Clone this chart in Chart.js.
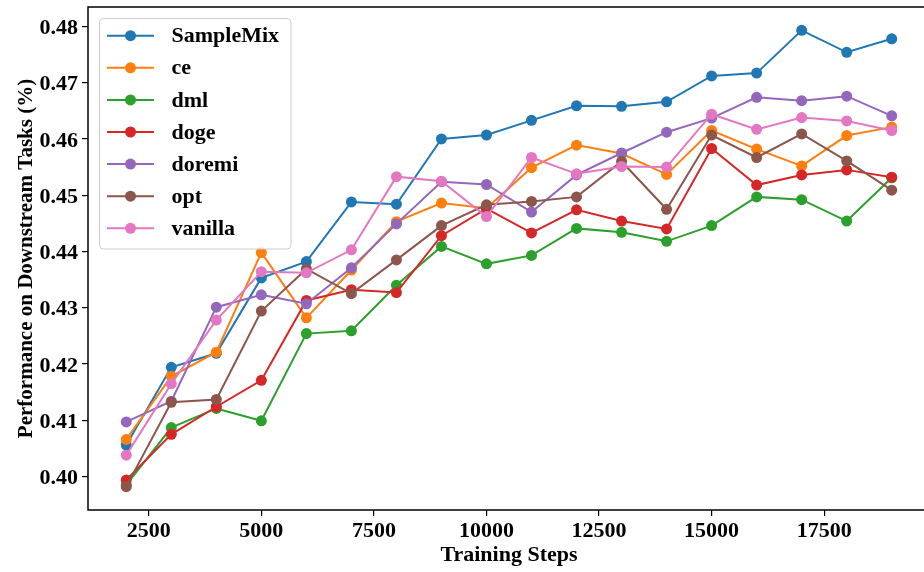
<!DOCTYPE html>
<html>
<head>
<meta charset="utf-8">
<script src="https://cdn.jsdelivr.net/npm/chart.js@4.4.1/dist/chart.umd.min.js"></script>
<style>
html,body{margin:0;padding:0;background:#fff;}
#wrap{width:924px;height:572px;overflow:hidden;position:relative;}
#c{display:block;}
</style>
</head>
<body>
<div id="wrap"><canvas id="c" width="940" height="572"></canvas></div>
<script>
const steps = [2000,3000,4000,5000,6000,7000,8000,9000,10000,11000,12000,13000,14000,15000,16000,17000,18000,19000];
const seriesNames = ['SampleMix','ce','dml','doge','doremi','opt','vanilla'];
const sampleMix = [0.4056,0.4194,0.4219,0.4353,0.4382,0.4488,0.4484,0.4600,0.4607,0.4633,0.4659,0.4658,0.4666,0.4712,0.4717,0.4793,0.4754,0.4778];
const ce        = [0.4066,0.4178,0.4221,0.4398,0.4282,0.4367,0.4453,0.4486,0.4477,0.4549,0.4589,0.4574,0.4537,0.4615,0.4582,0.4552,0.4606,0.4621];
const dml       = [0.3985,0.4087,0.4121,0.4099,0.4254,0.4259,0.4340,0.4409,0.4378,0.4393,0.4441,0.4434,0.4418,0.4446,0.4497,0.4492,0.4454,0.4531];
const doge      = [0.3994,0.4075,0.4124,0.4171,0.4313,0.4332,0.4327,0.4428,0.4476,0.4433,0.4474,0.4454,0.4440,0.4583,0.4518,0.4536,0.4545,0.4532];
const doremi    = [0.4097,0.4134,0.4301,0.4323,0.4307,0.4371,0.4449,0.4524,0.4519,0.4470,0.4536,0.4575,0.4612,0.4637,0.4674,0.4668,0.4676,0.4641];
const opt       = [0.3982,0.4132,0.4137,0.4294,0.4369,0.4325,0.4385,0.4446,0.4483,0.4489,0.4497,0.4560,0.4475,0.4607,0.4567,0.4609,0.4561,0.4509];
const vanilla   = [0.4038,0.4165,0.4278,0.4364,0.4362,0.4403,0.4533,0.4525,0.4462,0.4567,0.4538,0.4551,0.4550,0.4644,0.4617,0.4638,0.4632,0.4615];
const xTicks = [2500,5000,7500,10000,12500,15000,17500];
const yTicks = [0.40,0.41,0.42,0.43,0.44,0.45,0.46,0.47,0.48];
const colors = ['#1f77b4','#ff7f0e','#2ca02c','#d62728','#9467bd','#8c564b','#e377c2'];
const allSeries = [sampleMix, ce, dml, doge, doremi, opt, vanilla];

const FONT = '"Liberation Serif","Times New Roman",serif';

const datasets = allSeries.map((vals, i) => ({
  label: seriesNames[i],
  data: steps.map((s, j) => ({x: s, y: vals[j]})),
  borderColor: colors[i],
  backgroundColor: colors[i],
  pointBackgroundColor: colors[i],
  pointBorderColor: colors[i],
  borderWidth: 2,
  pointRadius: 5.5,
  pointBorderWidth: 0,
  pointHoverRadius: 5.5,
  tension: 0,
  fill: false,
  order: allSeries.length - i
}));

const framePlugin = {
  id: 'frame',
  afterDraw(chart) {
    const {ctx, chartArea: a} = chart;
    ctx.save();
    ctx.strokeStyle = '#000';
    ctx.lineWidth = 1.5;
    ctx.strokeRect(a.left, a.top, a.right - a.left, a.bottom - a.top);
    ctx.restore();
  }
};

const legendPlugin = {
  id: 'mplLegend',
  afterDraw(chart) {
    const ctx = chart.ctx;
    const x0 = 99.5, y0 = 18.5, w = 191.5, h = 230.5, r = 4;
    ctx.save();
    ctx.beginPath();
    ctx.moveTo(x0 + r, y0);
    ctx.arcTo(x0 + w, y0, x0 + w, y0 + h, r);
    ctx.arcTo(x0 + w, y0 + h, x0, y0 + h, r);
    ctx.arcTo(x0, y0 + h, x0, y0, r);
    ctx.arcTo(x0, y0, x0 + w, y0, r);
    ctx.closePath();
    ctx.fillStyle = 'rgba(255,255,255,0.8)';
    ctx.fill();
    ctx.strokeStyle = '#cccccc';
    ctx.lineWidth = 1;
    ctx.stroke();
    chart.data.datasets.forEach((ds, i) => {
      const y = 35.7 + i * 32.1;
      ctx.strokeStyle = ds.borderColor;
      ctx.lineWidth = 2;
      ctx.beginPath();
      ctx.moveTo(107, y);
      ctx.lineTo(154, y);
      ctx.stroke();
      ctx.fillStyle = ds.borderColor;
      ctx.beginPath();
      ctx.arc(130.5, y, 5.5, 0, Math.PI * 2);
      ctx.fill();
      ctx.fillStyle = '#000';
      ctx.font = 'bold 22px ' + FONT;
      ctx.textBaseline = 'middle';
      ctx.textAlign = 'left';
      ctx.fillText(ds.label, 171.5, y + 1);
    });
    ctx.restore();
  }
};

new Chart(document.getElementById('c'), {
  type: 'line',
  data: {datasets},
  options: {
    responsive: false,
    animation: false,
    events: [],
    layout: {padding: {left: 0, top: 7, right: 10, bottom: 0}},
    plugins: {legend: {display: false}, tooltip: {enabled: false}},
    scales: {
      x: {
        type: 'linear',
        min: 1150,
        max: 19850,
        afterBuildTicks(scale) { scale.ticks = xTicks.map(v => ({value: v})); },
        afterFit(scale) { scale.height = 62; scale.paddingLeft = 0; scale.paddingRight = 0; },
        ticks: {
          color: '#000',
          font: {family: FONT, size: 22, weight: 'bold'},
          padding: 2,
          maxRotation: 0,
          autoSkip: false,
          callback: v => String(v)
        },
        grid: {display: true, drawOnChartArea: false, drawTicks: true, tickLength: 6, color: '#000', lineWidth: 1.2},
        border: {display: false},
        title: {display: true, text: 'Training Steps', color: '#000', font: {family: FONT, size: 22, weight: 'bold'}, padding: {top: 0, bottom: 3}}
      },
      y: {
        type: 'linear',
        min: 0.39405,
        max: 0.48345,
        afterBuildTicks(scale) { scale.ticks = yTicks.map(v => ({value: v})); },
        afterFit(scale) { scale.width = 88; scale.paddingTop = 0; scale.paddingBottom = 0; },
        ticks: {
          color: '#000',
          font: {family: FONT, size: 22, weight: 'bold'},
          padding: 4,
          labelOffset: 2,
          autoSkip: false,
          callback: v => v.toFixed(2)
        },
        grid: {display: true, drawOnChartArea: false, drawTicks: true, tickLength: 6, color: '#000', lineWidth: 1.2},
        border: {display: false},
        title: {display: true, text: 'Performance on Downstream Tasks (%)', color: '#000', font: {family: FONT, size: 21, weight: 'bold'}, padding: {top: 14, bottom: 0}}
      }
    }
  },
  plugins: [framePlugin, legendPlugin]
});
</script>
</body>
</html>
